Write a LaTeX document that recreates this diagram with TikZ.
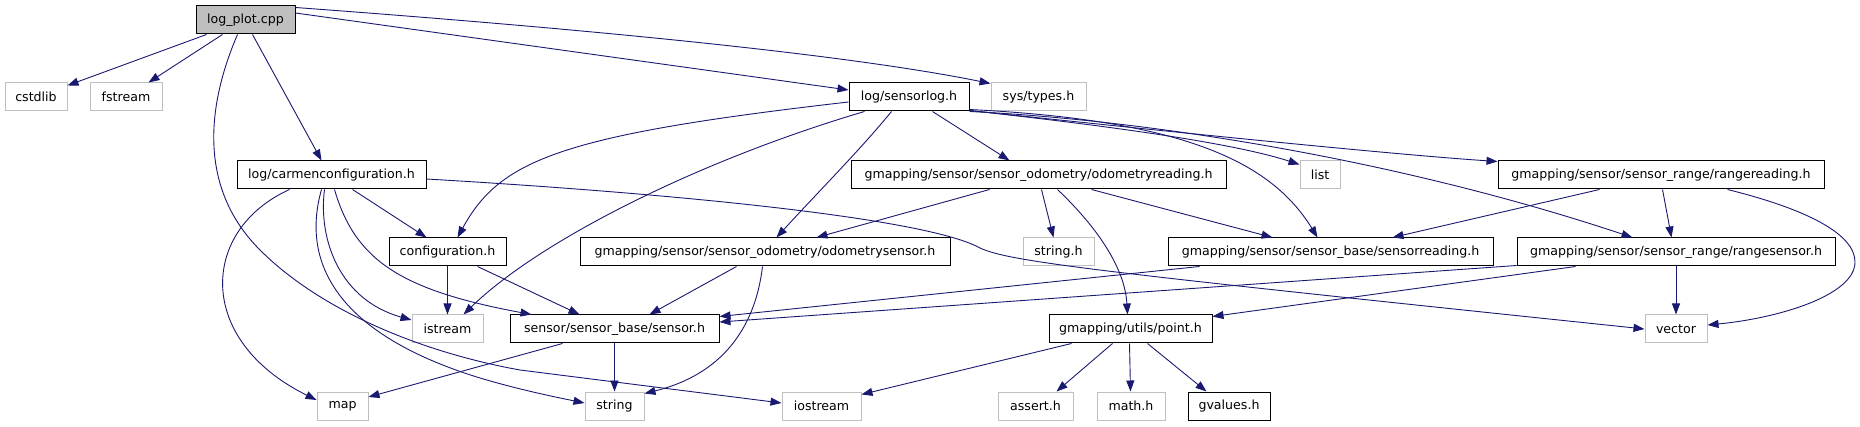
\documentclass[tikz,border=0pt]{standalone}
\usepackage{fontspec}
\setmainfont{DejaVu Sans}
\usetikzlibrary{arrows.meta}
\definecolor{edgecol}{HTML}{191970}
\definecolor{extgrey}{HTML}{BFBFBF}
\begin{document}
\begin{tikzpicture}[x=1pt,y=-1pt,
  box/.style={draw=black, fill=white, minimum height=28pt, inner sep=0pt, line width=1pt, font=\fontsize{12.6}{14}\selectfont},
  ext/.style={box, draw=extgrey},
  main/.style={box, fill=extgrey},
  dep/.style={draw=edgecol, line width=0.9pt, -{Triangle[length=11pt,width=8pt]}}]
\useasboundingbox (0,0) rectangle (1860,427);
% rank 0
\node[main, minimum width=99pt] (lp) at (245.5,20) {log\_plot.cpp};
% rank 1
\node[ext, minimum width=62pt] (cstdlib) at (36,97) {cstdlib};
\node[ext, minimum width=72pt] (fstream) at (126,97) {fstream};
\node[box, minimum width=120pt] (sensorlog) at (909,97) {log/sensorlog.h};
\node[ext, minimum width=95pt] (systypes) at (1038.5,97) {sys/types.h};
% rank 2
\node[box, minimum width=189pt] (carmen) at (331.5,175) {log/carmenconfiguration.h};
\node[box, minimum width=375pt] (odoread) at (1038.5,175) {gmapping/sensor/sensor\_odometry/odometryreading.h};
\node[ext, minimum width=40pt] (list) at (1320,175) {list};
\node[box, minimum width=326pt] (rangeread) at (1661,175) {gmapping/sensor/sensor\_range/rangereading.h};
% rank 3
\node[box, minimum width=117pt] (config) at (447.5,252) {configuration.h};
\node[box, minimum width=370pt] (odosens) at (765,252) {gmapping/sensor/sensor\_odometry/odometrysensor.h};
\node[ext, minimum width=71pt] (stringh) at (1058.5,252) {string.h};
\node[box, minimum width=325pt] (sensread) at (1330.5,252) {gmapping/sensor/sensor\_base/sensorreading.h};
\node[box, minimum width=318pt] (rangesens) at (1676,252) {gmapping/sensor/sensor\_range/rangesensor.h};
% rank 4
\node[ext, minimum width=71pt] (istream) at (447.5,329) {istream};
\node[box, minimum width=209pt] (sensor) at (614.5,329) {sensor/sensor\_base/sensor.h};
\node[box, minimum width=163pt] (point) at (1130.5,329) {gmapping/utils/point.h};
\node[ext, minimum width=62pt] (vector) at (1676,329) {vector};
% rank 5
\node[ext, minimum width=51pt] (map) at (342.5,406) {map};
\node[ext, minimum width=59pt] (string) at (614.5,406) {string};
\node[ext, minimum width=79pt] (iostream) at (821.5,406) {iostream};
\node[ext, minimum width=75pt] (assert) at (1035.5,406) {assert.h};
\node[ext, minimum width=68pt] (math) at (1131,406) {math.h};
\node[box, minimum width=82pt] (gvalues) at (1229,406) {gvalues.h};

% log_plot.cpp
\draw[dep] ([xshift=11pt]lp.south west) -- ([yshift=-3pt]cstdlib.north east);
\draw[dep] ([xshift=27pt]lp.south west) -- ([xshift=-14pt]fstream.north east);
\draw[dep] ([xshift=42pt]lp.south west) .. controls (205,110) and (200,190) .. (260,250)
   .. controls (320,310) and (420,352) .. (520,370) -- ([yshift=3pt]iostream.west);
\draw[dep] ([xshift=57pt]lp.south west) -- ([xshift=85pt]carmen.north west);
\draw[dep] ([yshift=7pt]lp.east) -- ([yshift=7pt]sensorlog.west);
\draw[dep] ([yshift=-2pt]lp.north east) .. controls (600,30) and (850,55) .. ([yshift=-1pt]systypes.north west);

% carmenconfiguration.h
\draw[dep] ([xshift=116pt]carmen.south west) -- ([xshift=38pt]config.north west);
\draw[dep] ([xshift=88pt]carmen.south west) .. controls (318,240) and (340,300) .. ([yshift=9pt]istream.west);
\draw[dep] ([xshift=85pt]carmen.south west) .. controls (300,265) and (340,335) .. (480,378)
   .. controls (520,390) and (560,398) .. ([yshift=3pt]string.west);
\draw[dep] ([xshift=98pt]carmen.south west) .. controls (355,260) and (400,290) .. ([xshift=22pt]sensor.north west);
\draw[dep] ([xshift=53pt]carmen.south west) .. controls (200,230) and (195,340) .. ([yshift=6pt]map.west);
\draw[dep] ([yshift=-4pt]carmen.east) .. controls (700,195) and (930,220) .. (980,248)
   .. controls (1010,262) and (1100,272) .. (vector.west);

% log/sensorlog.h
\draw[dep] ([yshift=-5pt]sensorlog.west) .. controls (560,135) and (500,160) .. ([xshift=69pt]config.north west);
\draw[dep] ([xshift=16pt]sensorlog.south west) .. controls (700,160) and (540,240) .. ([xshift=-20pt]istream.north east);
\draw[dep] ([xshift=43pt]sensorlog.south west) .. controls (860,150) and (820,190) .. ([xshift=197pt]odosens.north west);
\draw[dep] ([xshift=84pt]sensorlog.south west) -- ([xshift=159pt]odoread.north west);
\draw[dep] ([yshift=1pt]sensorlog.south east) .. controls (1100,125) and (1230,142) .. ([yshift=-4pt]list.north west);
\draw[dep] ([yshift=2pt]sensorlog.south east) .. controls (1180,120) and (1270,160) .. ([xshift=150pt]sensread.north west);
\draw[dep] ([yshift=1pt]sensorlog.south east) .. controls (1200,135) and (1400,155) .. ([yshift=-1pt]rangeread.north west);
\draw[dep] (sensorlog.south east) .. controls (1150,120) and (1400,160) .. ([xshift=116pt]rangesens.north west);

% odometryreading.h
\draw[dep] ([xshift=139pt]odoread.south west) -- ([xshift=237pt]odosens.north west);
\draw[dep] ([xshift=191pt]odoread.south west) -- ([xshift=31pt]stringh.north west);
\draw[dep] ([xshift=207pt]odoread.south west) .. controls (1100,230) and (1125,270) .. ([xshift=79pt]point.north west);
\draw[dep] ([xshift=241pt]odoread.south west) -- ([xshift=105pt]sensread.north west);

% rangereading.h
\draw[dep] ([xshift=102pt]rangeread.south west) -- ([xshift=225pt]sensread.north west);
\draw[dep] ([xshift=165pt]rangeread.south west) -- ([xshift=155pt]rangesens.north west);
\draw[dep] ([xshift=230pt]rangeread.south west) .. controls (1810,210) and (1855,235) .. (1855,262)
   .. controls (1855,295) and (1780,318) .. ([yshift=4pt]vector.east);

% rangesensor.h
\draw[dep] (rangesens.south) -- (vector.north);
\draw[dep] ([yshift=1pt]rangesens.south west) -- ([yshift=7pt]sensor.east);
\draw[dep] ([xshift=59pt]rangesens.south west) -- ([yshift=-2pt]point.north east);

% sensorreading.h
\draw[dep] ([xshift=32pt]sensread.south west) -- ([yshift=-2pt]sensor.north east);

% configuration.h
\draw[dep] (config.south) -- (istream.north);
\draw[dep] ([xshift=89pt]config.south west) -- ([xshift=70pt]sensor.north west);

% odometrysensor.h
\draw[dep] ([xshift=157pt]odosens.south west) -- ([xshift=140pt]sensor.north west);
\draw[dep] ([xshift=183pt]odosens.south west) .. controls (755,330) and (720,375) .. ([yshift=-2pt]string.north east);

% sensor.h
\draw[dep] (sensor.south) -- (string.north);
\draw[dep] ([xshift=53pt]sensor.south west) -- ([yshift=9pt]map.east);

% point.h
\draw[dep] ([xshift=23pt]point.south west) -- ([yshift=-3pt]iostream.north east);
\draw[dep] ([xshift=64pt]point.south west) -- ([xshift=59pt]assert.north west);
\draw[dep] ([xshift=81pt]point.south west) -- ([xshift=34pt]math.north west);
\draw[dep] ([xshift=99pt]point.south west) -- ([xshift=19pt]gvalues.north west);
\end{tikzpicture}
\end{document}
